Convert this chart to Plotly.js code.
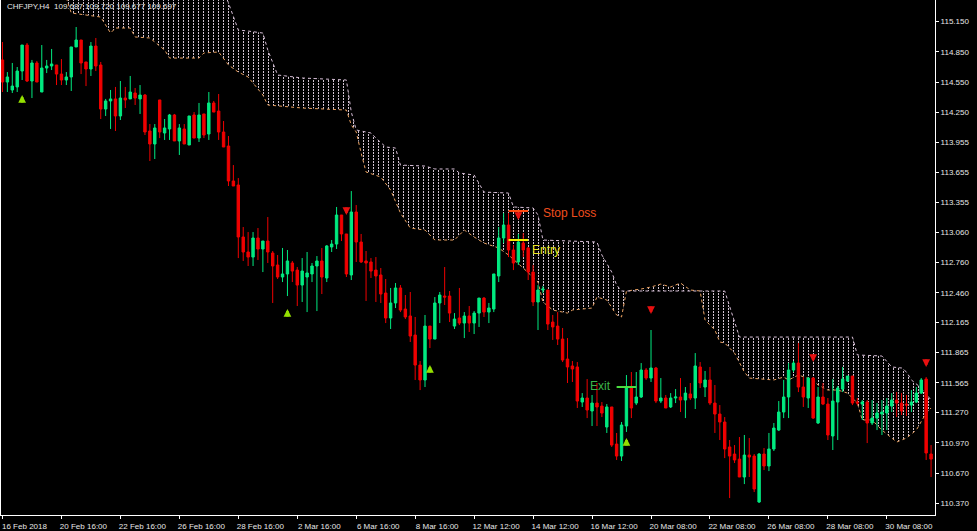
<!DOCTYPE html>
<html><head><meta charset="utf-8">
<script src="https://cdn.plot.ly/plotly-3.0.1.min.js"></script>
<style>html,body{margin:0;padding:0;background:#000;}#chart{width:977px;height:531px;}</style>
</head><body><div id="chart"></div>
<script>
// ---- data (CHFJPY H4) ----
const symbolTitle = "CHFJPY,H4  109.687 109.720 109.677 109.697";
const openP = [114.770,114.551,114.472,114.502,114.660,114.918,114.561,114.740,114.452,114.690,
114.710,114.720,114.630,114.571,114.601,114.899,114.968,114.750,114.680,114.908,
114.720,114.283,114.363,114.383,114.214,114.392,114.383,114.442,114.383,114.422,
114.065,113.936,114.373,114.045,114.085,114.224,113.966,114.085,113.926,114.224,
113.995,114.234,114.035,114.343,114.263,114.055,113.916,113.569,113.529,113.013,
112.864,112.814,113.003,112.894,112.973,112.854,112.735,112.616,112.646,112.755,
112.685,112.536,112.616,112.646,112.725,112.775,112.606,112.914,112.943,113.231,
113.043,112.636,113.261,112.963,112.775,112.765,112.685,112.636,112.457,112.209,
112.358,112.507,112.298,112.229,112.040,111.742,111.594,112.129,112.000,112.358,
112.427,112.427,112.129,112.209,112.159,112.229,112.159,112.258,112.407,112.268,
112.298,112.626,113.003,113.132,112.884,112.765,112.953,112.904,112.665,112.368,
112.487,112.487,112.169,112.129,112.000,111.802,111.733,111.723,111.375,111.415,
111.286,111.365,111.335,111.127,111.326,110.958,110.839,111.137,111.524,111.365,
111.425,111.693,111.613,111.713,111.385,111.415,111.326,111.415,111.425,111.395,
111.455,111.415,111.723,111.524,111.594,111.365,111.256,111.177,110.929,110.859,
110.809,110.631,110.849,110.839,110.383,110.859,110.740,110.909,111.097,111.276,
111.425,111.693,111.762,111.524,111.415,111.613,111.167,111.425,111.355,111.038,
111.375,111.504,111.584,111.633,111.375,111.355,111.375,111.167,111.216,111.256,
111.266,111.335,111.395,111.365,111.355,111.345,111.375,111.464,111.603,110.859];
const highP = [114.948,114.650,114.740,114.700,114.918,114.938,114.770,114.760,114.918,114.770,
114.879,114.720,114.779,114.650,114.899,115.097,114.968,114.750,114.948,114.988,
114.750,114.383,114.472,114.502,114.561,114.502,114.611,114.492,114.521,114.432,
114.134,114.134,114.373,114.184,114.234,114.234,114.134,114.134,114.214,114.253,
114.343,114.234,114.452,114.363,114.432,114.164,114.015,113.727,113.598,113.112,
113.062,113.062,113.102,112.973,113.211,112.874,112.834,112.904,112.884,112.775,
112.715,112.804,112.864,112.755,112.824,112.904,112.933,112.983,113.311,113.231,
113.043,113.469,113.330,113.043,112.874,112.804,112.814,112.705,112.596,112.507,
112.556,112.536,112.437,112.467,112.219,111.782,112.239,112.129,112.417,112.467,
112.715,112.477,112.258,112.507,112.268,112.328,112.278,112.407,112.417,112.358,
112.646,113.112,113.251,113.251,112.933,113.043,113.052,112.914,112.735,112.536,
112.527,112.487,112.239,112.268,112.110,112.010,111.782,111.772,111.464,111.603,
111.445,111.564,111.375,111.355,111.326,111.068,111.177,111.643,111.673,111.673,
111.762,111.713,112.090,111.723,111.613,111.445,111.464,111.504,111.613,111.524,
111.564,111.861,111.772,111.683,111.723,111.544,111.345,111.226,110.998,110.948,
111.028,111.048,111.018,110.859,110.869,110.919,111.068,111.167,111.385,111.594,
111.762,111.782,111.961,111.623,111.623,111.623,111.524,111.564,111.415,111.603,
111.534,111.723,111.633,111.633,111.415,111.395,111.395,111.395,111.365,111.395,
111.415,111.464,111.474,111.464,111.445,111.494,111.524,111.613,111.623,110.948];
const lowP = [114.452,114.452,114.442,114.452,114.571,114.551,114.392,114.551,114.452,114.640,
114.670,114.521,114.521,114.521,114.462,114.899,114.630,114.511,114.611,114.660,
114.184,114.214,114.085,114.065,114.174,114.293,114.383,114.323,114.234,114.025,
113.767,113.787,113.995,113.976,113.976,113.966,113.827,113.936,113.926,113.995,
113.956,113.995,113.976,114.253,113.976,113.906,113.519,113.519,112.804,112.775,
112.725,112.725,112.785,112.665,112.755,112.358,112.596,112.566,112.427,112.566,
112.328,112.368,112.268,112.566,112.278,112.447,112.566,112.864,112.894,112.973,
112.616,112.586,112.765,112.755,112.378,112.606,112.368,112.358,112.159,112.100,
112.308,112.268,112.199,111.971,111.594,111.494,111.524,111.911,112.000,112.159,
112.338,112.169,112.100,112.139,112.010,112.070,112.050,112.120,112.219,112.159,
112.268,112.566,112.953,112.814,112.685,112.735,112.814,112.586,112.328,112.090,
112.457,112.090,111.991,111.941,111.772,111.564,111.574,111.316,111.326,111.216,
111.137,111.137,111.226,111.068,110.929,110.800,110.790,111.078,111.216,111.345,
111.415,111.594,111.574,111.365,111.365,111.316,111.316,111.365,111.276,111.216,
111.395,111.306,111.514,111.425,111.345,111.068,110.998,110.819,110.422,110.770,
110.631,110.561,110.631,110.482,110.373,110.700,110.690,110.889,111.087,111.216,
111.216,111.673,111.474,111.326,111.316,111.207,111.157,111.345,110.998,110.899,
110.998,111.474,111.574,111.345,111.345,111.197,110.968,111.147,111.097,111.048,
111.097,111.276,111.226,111.246,111.236,111.276,111.365,111.455,110.800,110.631];
const closeP = [114.551,114.601,114.511,114.660,114.918,114.561,114.740,114.551,114.690,114.710,
114.730,114.630,114.571,114.601,114.899,114.968,114.740,114.680,114.908,114.710,
114.283,114.363,114.383,114.214,114.392,114.373,114.452,114.392,114.422,114.055,
113.936,114.095,114.055,114.095,114.224,113.966,114.095,113.936,114.214,113.995,
114.224,114.025,114.343,114.253,114.055,113.906,113.569,113.519,113.013,112.864,
112.814,113.003,112.894,112.973,112.864,112.725,112.616,112.646,112.775,112.675,
112.536,112.675,112.656,112.725,112.775,112.616,112.924,112.943,113.231,113.043,
112.646,113.261,112.963,112.765,112.755,112.675,112.626,112.447,112.209,112.358,
112.507,112.288,112.219,112.030,111.742,111.594,112.129,112.000,112.358,112.437,
112.417,112.258,112.199,112.159,112.229,112.159,112.258,112.407,112.268,112.308,
112.646,113.003,113.132,112.884,112.755,112.963,112.884,112.665,112.368,112.487,
112.497,112.149,112.120,112.000,111.792,111.723,111.703,111.385,111.415,111.296,
111.365,111.326,111.266,111.326,110.948,110.839,111.147,111.524,111.316,111.425,
111.693,111.613,111.713,111.385,111.415,111.316,111.415,111.425,111.395,111.464,
111.415,111.733,111.564,111.594,111.365,111.256,111.177,110.909,110.839,110.800,
110.631,110.849,110.829,110.512,110.859,110.740,110.909,111.117,111.276,111.425,
111.693,111.762,111.524,111.425,111.613,111.216,111.425,111.355,111.048,111.385,
111.514,111.603,111.633,111.365,111.365,111.375,111.167,111.216,111.266,111.276,
111.335,111.395,111.365,111.286,111.345,111.375,111.464,111.594,110.869,110.809];
const barIdx = openP.map((v, i) => i);

// Ichimoku cloud spans (bar index, price)
const kumoLoIdx = [13,14,20,22,23,26,27,30,33,34,40,41,44,46,48,50,53,54,61,70,71,72,73,74,77,79,81,83,86,88,92,94,96,98,101,103,106,109,110,112,115,116,120,121,123,125,126,127,130,132,134,136,138,140,142,143,145,146,147,149,151,152,157,159,160,162,165,166,168,170,172,174,175,177,179,182,184,186,188,189];
const kumoLoVal = [115.385,115.236,115.196,115.037,115.087,115.087,114.998,114.988,114.869,114.789,114.789,114.839,114.849,114.720,114.650,114.601,114.422,114.323,114.293,114.273,114.124,114.055,113.846,113.658,113.608,113.479,113.251,113.102,113.082,112.983,112.983,113.082,113.013,112.953,112.904,112.834,112.705,112.566,112.368,112.288,112.258,112.288,112.308,112.417,112.388,112.239,112.219,112.477,112.497,112.517,112.546,112.517,112.556,112.487,112.477,112.189,112.090,111.971,111.961,111.861,111.673,111.613,111.594,111.623,111.594,111.643,111.594,111.544,111.494,111.494,111.464,111.365,111.197,111.197,111.097,110.978,111.018,111.097,111.266,111.316];
const kumoHiIdx = [13,45,46,48,50,53,54,56,61,70,71,72,75,76,78,80,81,86,88,92,93,96,98,101,103,104,108,109,110,121,122,124,125,126,147,150,173,174,179,181,183,184,185,187,189];
const kumoHiVal = [115.564,115.464,115.335,115.067,115.057,115.037,114.869,114.621,114.591,114.571,114.253,114.075,114.045,113.995,113.906,113.896,113.727,113.717,113.688,113.688,113.648,113.628,113.459,113.449,113.449,113.311,113.301,113.231,112.983,112.963,112.834,112.665,112.536,112.477,112.477,112.020,112.020,111.842,111.832,111.723,111.713,111.673,111.594,111.514,111.395];

// signal arrows (price at the arrow tip)
const upArrowIdx = [4,58,87,127];
const upArrowPrice = [114.422,112.298,111.742,111.018];
const downArrowIdx = [70,105,132,165,188];
const downArrowPrice = [113.231,113.182,112.249,111.772,111.723];

// trade levels
const levelNames = ["Stop Loss","Entry","Exit"];
const levelPrice = [113.271,112.983,111.524];
const levelStart = [103,103,125];
const levelEnd = [107,107,129];
const levelColors = ["#FF4A10","#F0F000","#4CE040"];
const labelColors = ["#F04E1E","#E6E61E","#3CB44A"];
const labelIdx = [109.7,107.3,124.2];
const labelPrice = [113.251,112.884,111.534];
const labelAnchor = ["left","left","right"];

// axes
const xTickIdx = [0,12,24,36,48,60,72,84,96,108,120,132,144,156,168,180];
const xTickText = ["16 Feb 2018","20 Feb 16:00","22 Feb 16:00","26 Feb 16:00","28 Feb 16:00","2 Mar 16:00","6 Mar 16:00","8 Mar 16:00","12 Mar 12:00","14 Mar 12:00","16 Mar 12:00","20 Mar 08:00","22 Mar 08:00","26 Mar 08:00","28 Mar 08:00","30 Mar 08:00"];
const yTickText = ["115.150","114.850","114.550","114.250","113.955","113.655","113.355","113.060","112.760","112.460","112.165","111.865","111.565","111.270","110.970","110.670","110.370"];
const yTickVals = yTickText.map(Number);

const GREEN = "#00EA80", RED = "#F00000";
const FONT = "Liberation Sans, Arial, sans-serif";
const hidden = {color:"rgba(0,0,0,0)", width:0};
const X_RANGE = [-0.3, 189.8], Y_RANGE = [110.254, 115.365];

const traces = [];
// cloud hatch (main axes, drawn underneath)
traces.push({type:"scatter", mode:"lines", x:kumoLoIdx, y:kumoLoVal, line:hidden, hoverinfo:"skip", showlegend:false});
traces.push({type:"scatter", mode:"lines", x:kumoHiIdx, y:kumoHiVal, fill:"tonexty", line:hidden,
  fillcolor:"rgba(0,0,0,0)",
  fillpattern:{shape:"|", size:5, solidity:0.2, fgcolor:"#E8D8E8", bgcolor:"rgba(0,0,0,0)", fgopacity:0.9},
  hoverinfo:"skip", showlegend:false});
traces.push({type:"scatter", mode:"lines", x:kumoLoIdx, y:kumoLoVal, line:hidden, hoverinfo:"skip", showlegend:false});
traces.push({type:"scatter", mode:"lines", x:kumoHiIdx, y:kumoHiVal, fill:"tonexty", line:hidden,
  fillcolor:"rgba(0,0,0,0)",
  fillpattern:{shape:"-", size:3, solidity:0.34, fgcolor:"#000000", bgcolor:"rgba(0,0,0,0)"},
  hoverinfo:"skip", showlegend:false});
traces.push({type:"scatter", mode:"lines", x:kumoLoIdx, y:kumoLoVal,
  line:{color:"#E8A060", width:1, dash:"dot"}, hoverinfo:"skip", showlegend:false});
traces.push({type:"scatter", mode:"lines", x:kumoHiIdx, y:kumoHiVal,
  line:{color:"#D8BFD8", width:1, dash:"dot"}, hoverinfo:"skip", showlegend:false});
// candles and levels on an overlaid axis pair so they sit above the cloud
traces.push({type:"candlestick", x:barIdx, open:openP, high:highP, low:lowP, close:closeP,
  xaxis:"x2", yaxis:"y2",
  increasing:{line:{color:GREEN, width:1}, fillcolor:GREEN},
  decreasing:{line:{color:RED, width:1}, fillcolor:RED},
  whiskerwidth:0, hoverinfo:"skip", showlegend:false});
levelNames.forEach((n, i) => {
  traces.push({type:"scatter", mode:"lines", x:[levelStart[i], levelEnd[i]], y:[levelPrice[i], levelPrice[i]],
    xaxis:"x2", yaxis:"y2",
    line:{color:levelColors[i], width:2}, hoverinfo:"skip", showlegend:false, name:n});
});

const annotations = [{
  xref:"paper", yref:"paper", x:0.004, y:1, xanchor:"left", yanchor:"top",
  text:symbolTitle, showarrow:false, font:{family:FONT, size:8, color:"#E6E6E6"}
}];
levelNames.forEach((n, i) => {
  annotations.push({x:labelIdx[i], y:labelPrice[i], xref:"x", yref:"y", text:n, showarrow:false,
    xanchor:labelAnchor[i], yanchor:"middle", font:{family:FONT, size:12, color:labelColors[i]}});
});
// arrow glyphs (head at the tip price, short thick stem)
upArrowIdx.forEach((ix, i) => {
  annotations.push({x:ix, y:upArrowPrice[i], xref:"x", yref:"y", text:"", showarrow:true,
    ax:0, ay:9, arrowhead:2, arrowsize:0.6, arrowwidth:2.6, arrowcolor:"#94E000", standoff:0});
});
downArrowIdx.forEach((ix, i) => {
  annotations.push({x:ix, y:downArrowPrice[i], xref:"x", yref:"y", text:"", showarrow:true,
    ax:0, ay:-9, arrowhead:2, arrowsize:0.6, arrowwidth:2.6, arrowcolor:"#E81010", standoff:0});
});

const layout = {
  width:977, height:531,
  paper_bgcolor:"#000000", plot_bgcolor:"#000000",
  margin:{l:1, r:42, t:0, b:16},
  showlegend:false,
  boxgap:0.3, boxgroupgap:0.3,
  xaxis:{range:X_RANGE, showgrid:false, zeroline:false, showline:true, linecolor:"#FFFFFF", linewidth:1,
    tickmode:"array", tickvals:xTickIdx, ticktext:xTickText, ticks:"outside", ticklen:3, tickcolor:"#FFFFFF",
    ticklabelshift:22, ticklabelstandoff:0,
    tickfont:{family:FONT, size:8, color:"#E6E6E6"}, rangeslider:{visible:false}, fixedrange:true},
  yaxis:{range:Y_RANGE, side:"right", showgrid:false, zeroline:false, showline:true, mirror:true,
    linecolor:"#FFFFFF", linewidth:1,
    tickmode:"array", tickvals:yTickVals, ticktext:yTickText, ticks:"outside", ticklen:3, tickcolor:"#FFFFFF",
    tickfont:{family:FONT, size:8, color:"#E6E6E6"}, fixedrange:true},
  xaxis2:{overlaying:"x", range:X_RANGE, visible:false, showgrid:false, zeroline:false,
    rangeslider:{visible:false}, fixedrange:true},
  yaxis2:{overlaying:"y", range:Y_RANGE, visible:false, showgrid:false, zeroline:false, fixedrange:true},
  annotations:annotations
};
Plotly.newPlot("chart", traces, layout, {displayModeBar:false, staticPlot:true});
</script>
</body></html>
